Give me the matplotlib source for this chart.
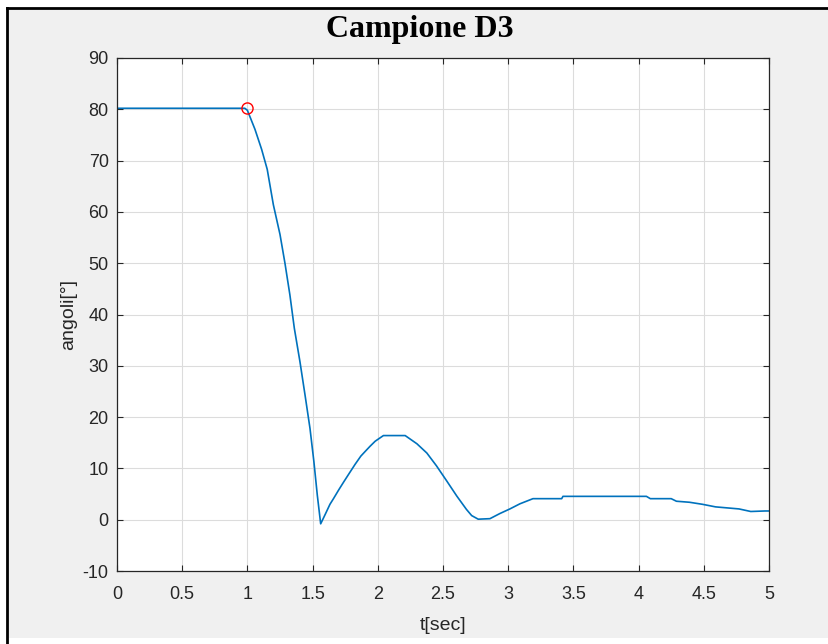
import matplotlib.pyplot as plt
from matplotlib.patches import Rectangle
from matplotlib.lines import Line2D

# angle vs time
t = [0, 0.98, 1.0, 1.058, 1.109, 1.152, 1.199, 1.25, 1.288, 1.326, 1.36, 1.403,
     1.442, 1.48, 1.51, 1.536, 1.562, 1.596, 1.633, 1.66, 1.70, 1.737, 1.78,
     1.826, 1.87, 1.903, 1.94, 1.98, 2.043, 2.21, 2.30, 2.376, 2.45, 2.53, 2.606,
     2.68, 2.72, 2.77, 2.86, 2.936, 3.013, 3.09, 3.19, 3.41, 3.42, 4.06, 4.09, 4.25,
     4.29, 4.39, 4.49, 4.59, 4.77, 4.86, 4.97, 5.0]
angle = [80.2, 80.2, 79.8, 76.1, 72.2, 68.3, 61.4, 55.6, 50.0, 43.8, 37.3, 30.8,
         24.3, 17.8, 11.3, 4.8, -0.8, 1.0, 3.0, 4.1, 5.8, 7.3, 9.0,
         10.8, 12.4, 13.3, 14.3, 15.3, 16.4, 16.4, 14.8, 13.0, 10.5, 7.5, 4.6,
         2.0, 0.8, 0.1, 0.2, 1.2, 2.1, 3.1, 4.1, 4.1, 4.55, 4.55, 4.1, 4.1,
         3.6, 3.4, 3.0, 2.5, 2.1, 1.6, 1.7, 1.7]
marker_t = [1.0]
marker_y = [80.2]

xticks = [0, 0.5, 1, 1.5, 2, 2.5, 3, 3.5, 4, 4.5, 5]
xticklabels = ['0', '0.5', '1', '1.5', '2', '2.5', '3', '3.5', '4', '4.5', '5']
yticks = [-10, 0, 10, 20, 30, 40, 50, 60, 70, 80, 90]

plt.rcParams['font.family'] = ['Liberation Sans', 'DejaVu Sans']
plt.rcParams['axes.unicode_minus'] = False

fig = plt.figure(figsize=(8.29, 6.44), dpi=100, facecolor='white')
W, H = 829, 644
# grey panel with black top/left border like the screenshot
fig.patches.append(Rectangle((7 / W, 6 / H), 1 - 7 / W, (638 - 8) / H,
                             transform=fig.transFigure, facecolor='#f0f0f0',
                             edgecolor='none', zorder=-10))
fig.lines.append(Line2D([7 / W, 1], [1 - 8 / H, 1 - 8 / H], transform=fig.transFigure,
                        color='black', lw=2, zorder=-5))
fig.lines.append(Line2D([7 / W, 7 / W], [0, 1 - 8 / H], transform=fig.transFigure,
                        color='black', lw=2, zorder=-5))

ax = fig.add_axes([117 / W, 1 - 571 / H, (769 - 117) / W, (571 - 58) / H])
ax.plot(t, angle, color='#0072BD', lw=1.2)
ax.plot(marker_t, marker_y, 'o', mfc='none', mec='red', ms=8, mew=1.0)

ax.set_xlim(0, 5)
ax.set_ylim(-10, 90)
ax.set_xticks(xticks)
ax.set_xticklabels(xticklabels)
ax.set_yticks(yticks)
ax.grid(True, color='#dcdcdc', lw=0.8)
ax.set_axisbelow(True)
ax.tick_params(direction='in', top=True, right=True, length=4, width=0.8,
               colors='#262626', labelsize=13)
ax.tick_params(axis='x', pad=11)
ax.tick_params(axis='y', pad=6)
for s in ax.spines.values():
    s.set_color('#262626')
    s.set_linewidth(0.9)

ax.set_xlabel('t[sec]', fontsize=14, color='#262626', labelpad=10)
ax.set_ylabel('angoli[°]', fontsize=14, color='#262626', labelpad=4)
fig.text(420 / W, 1 - 30 / H, 'Campione D3', ha='center', va='center',
         fontsize=23, fontweight='bold', family='Liberation Serif')

fig.savefig('out.png', dpi=100, facecolor=fig.get_facecolor())
